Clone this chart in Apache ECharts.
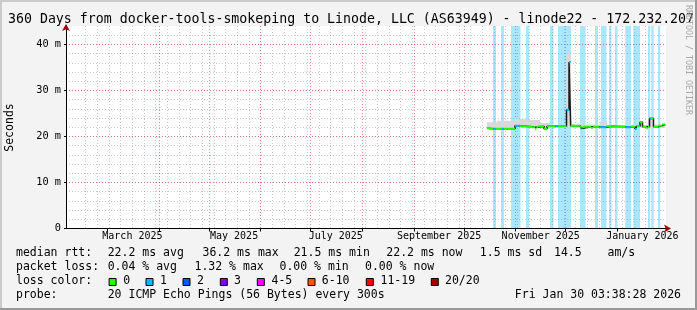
<!DOCTYPE html>
<html><head><meta charset="utf-8">
<script src="https://cdn.jsdelivr.net/npm/echarts@6/dist/echarts.min.js"></script>
<style>html,body{margin:0;padding:0;background:#f3f3f3}#c{width:697px;height:310px}</style>
</head><body><div id="c"></div>
<script>
// ---------------- data ----------------
const titleText = '360 Days from docker-tools-smokeping to Linode, LLC (AS63949) - linode22 - 172.232.207.';
const startTime = '2025-02-04 03:38:28';
const endTime = '2026-01-30 03:38:28';
const yMax = 44;
const monthLabels = ['March 2025', 'May 2025', 'July 2025', 'September 2025', 'November 2025', 'January 2026'];
const monthLabelDates = ['2025-03-16', '2025-05-16', '2025-07-16', '2025-09-16', '2025-11-16', '2026-01-16'];
const monthStarts = ['2025-03-01', '2025-04-01', '2025-05-01', '2025-06-01', '2025-07-01', '2025-08-01',
  '2025-09-01', '2025-10-01', '2025-11-01', '2025-12-01', '2026-01-01'];
const firstWeekLine = '2025-02-09';

// median rtt (ms) per change point, with loss level index (0 = no loss, 1 = 1/20)
const medianTimes = ['2025-10-14 18:03', '2025-10-15 22:51', '2025-10-18 15:39', '2025-10-20 03:39', '2025-10-23 18:03',
  '2025-10-24 22:51', '2025-10-31 13:15', '2025-11-03 13:15', '2025-11-07 03:39', '2025-11-10 18:03', '2025-11-12 13:15',
  '2025-11-13 10:51', '2025-11-14 08:27', '2025-11-17 22:51', '2025-11-19 18:03', '2025-11-24 20:27', '2025-11-26 01:15',
  '2025-12-01 10:51', '2025-12-02 22:51', '2025-12-03 23:20', '2025-12-09 13:15', '2025-12-10 10:51', '2025-12-11 01:15',
  '2025-12-16 03:39', '2025-12-17 08:27', '2025-12-20 22:51', '2025-12-25 13:44', '2025-12-28 13:44', '2026-01-05 17:34',
  '2026-01-08 23:20', '2026-01-11 13:15', '2026-01-12 13:44', '2026-01-14 13:15', '2026-01-16 01:15', '2026-01-18 10:51',
  '2026-01-19 08:27', '2026-01-20 06:03', '2026-01-21 03:39', '2026-01-22 15:39', '2026-01-25 12:46', '2026-01-27 18:03'];
const medianValues = [21.8, 21.7, 21.7, 21.7, 21.7, 21.7, 22.3, 22.2, 22.1, 22.0, 21.7,
  22.0, 22.2, 21.7, 22.2, 22.2, 22.2, 25.8, 36.2, 22.3, 22.1, 21.7, 22.1,
  21.9, 22.1, 22.0, 22.2, 22.1, 22.0, 22.1, 21.6, 22.2, 23.1, 22.1, 21.8,
  22.1, 23.9, 23.9, 22.1, 22.3, 22.6];
const medianLoss = [0, 0, 1, 0, 1, 0, 1, 0, 0, 0, 0,
  0, 0, 0, 0, 1, 0, 1, 1, 0, 0, 0, 0,
  0, 0, 1, 0, 0, 1, 0, 1, 0, 0, 0, 0,
  0, 1, 0, 0, 0, 0];
const dataEnd = '2026-01-29 17:34';

// smoke (spread of the pings), ms
const smokeTimes = ['2025-10-14 18:03', '2025-10-20 18:03', '2025-10-31 13:15', '2025-11-08 08:27', '2025-11-15 13:15',
  '2025-11-21 13:15', '2025-12-01 10:51', '2025-12-04 03:39', '2025-12-21 13:15', '2025-12-25 18:03', '2026-01-14 13:15',
  '2026-01-16 01:15', '2026-01-19 08:27', '2026-01-22 22:51'];
const smokeLow = [21.6, 21.6, 22.0, 21.9, 21.7, 21.9, 22.0, 21.9, 21.8, 21.9, 21.9, 21.9, 21.7, 21.9];
const smokeHigh = [23.1, 23.4, 23.8, 23.6, 22.9, 22.5, 38.0, 22.6, 23.3, 22.5, 23.4, 22.5, 24.3, 22.6];

// periods with packet loss (background shading)
const lossBarStart = ['2025-10-18 08:27', '2025-10-23 03:39', '2025-10-29 03:39', '2025-11-07 03:39', '2025-11-21 13:15',
  '2025-11-26 08:27', '2025-11-27 17:34', '2025-12-09 13:15', '2025-12-10 22:22', '2025-12-18 13:15', '2025-12-22 03:39',
  '2025-12-26 22:51', '2025-12-30 13:15', '2026-01-05 17:34', '2026-01-10 12:46', '2026-01-19 08:27', '2026-01-21 07:58',
  '2026-01-25 08:27'];
const lossBarEnd = ['2025-10-20 03:39', '2025-10-24 22:51', '2025-11-03 20:27', '2025-11-08 22:51', '2025-11-23 15:39',
  '2025-11-27 17:34', '2025-12-04 03:39', '2025-12-10 22:22', '2025-12-12 20:27', '2025-12-20 08:27', '2025-12-25 10:51',
  '2025-12-28 10:51', '2026-01-01 01:15', '2026-01-09 03:39', '2026-01-14 13:15', '2026-01-20 17:34', '2026-01-22 18:32',
  '2026-01-26 17:34'];

const lossLabels = ['0', '1', '2', '3', '4-5', '6-10', '11-19', '20/20'];
const lossColors = ['#26ff00', '#00b8ff', '#0059ff', '#7e00ff', '#ff00ff', '#ff5500', '#ff0000', '#a10000'];

const rttLegend = ['median rtt:', '22.2 ms avg', '36.2 ms max', '21.5 ms min', '22.2 ms now', '1.5 ms sd', '14.5', 'am/s'];
const lossLegend = ['packet loss:', '0.04 % avg', '1.32 % max', '0.00 % min', '0.00 % now'];
const probeLegend = ['probe:', '20 ICMP Echo Pings (56 Bytes) every 300s'];
const stampText = 'Fri Jan 30 03:38:28 2026';
const watermark = 'RRDTOOL / TOBI OETIKER';

// ---------------- layout / style ----------------
const MONO = '"DejaVu Sans Mono", monospace';
const rttX = [16, 107.7, 202.5, 293.7, 386.3, 479.8, 554, 607.5];
const lossX = [16, 107.7, 194.5, 279.5, 365];
const boxX = [108.6, 145.5, 182.5, 219.8, 256.8, 307.5, 365.8, 430.8];
const boxLabelX = [123.3, 160, 197, 234, 271.5, 321.8, 380.5, 445];
const lossBg = 'rgba(0,184,255,0.34)';

const T = s => new Date(s.length === 10 ? s + 'T00:00:00' : s.replace(' ', 'T')).getTime();
const tMin = T(startTime), tMax = T(endTime);
const weekLines = [];
for (let d = new Date(T(firstWeekLine)); d.getTime() < tMax; d.setDate(d.getDate() + 7)) weekLines.push(d.getTime());
const monthTs = monthStarts.map(T);
const labelTs = monthLabelDates.map(T);

const n = medianTimes.length;
const medianSeg = medianTimes.map((t, i) => [T(t), T(i + 1 < n ? medianTimes[i + 1] : dataEnd), medianValues[i], medianLoss[i]]);
const medianLine = medianTimes.map((t, i) => [T(t), medianValues[i]]).concat([[T(dataEnd), medianValues[n - 1]]]);
const sm = smokeTimes.length;
const smokeSeg = smokeTimes.map((t, i) => [T(t), T(i + 1 < sm ? smokeTimes[i + 1] : dataEnd), smokeLow[i], smokeHigh[i]]);
const lossSeg = lossBarStart.map((s, i) => [T(s), T(lossBarEnd[i]), 0, yMax]);

const grid = { left: 66, top: 26, width: 600, height: 202.5, show: true, backgroundColor: '#ffffff', borderWidth: 0 };
const minorColor = 'rgba(140,140,140,0.45)';
const majorColor = 'rgba(205,35,35,0.5)';
const dots = [1, 2];

const txt = (text, x, y, size, extra) => ({
  type: 'text', x: x, y: y, silent: true,
  style: Object.assign({ text: text, font: size + 'px ' + MONO, fill: '#000', textAlign: 'left', textVerticalAlign: 'middle' }, extra || {})
});

const graphics = [
  { type: 'rect', shape: { x: 0, y: 0, width: 697, height: 2 }, style: { fill: '#cbcbcb' }, silent: true },
  { type: 'rect', shape: { x: 0, y: 0, width: 2, height: 310 }, style: { fill: '#cbcbcb' }, silent: true },
  { type: 'rect', shape: { x: 0, y: 308, width: 697, height: 2 }, style: { fill: '#999999' }, silent: true },
  { type: 'rect', shape: { x: 695, y: 0, width: 2, height: 310 }, style: { fill: '#999999' }, silent: true },
  txt(titleText, 8, 19.5, 13.25),
  Object.assign(txt(watermark, 688, 60, 8.3, { fill: '#a8a8a8', textAlign: 'center' }), { rotation: -Math.PI / 2 }),
  Object.assign(txt('Seconds', 10.5, 127.5, 11.5, { textAlign: 'center' }), { rotation: Math.PI / 2 }),
  txt(stampText, 681, 295, 11.5, { textAlign: 'right' })
];
rttLegend.forEach((s, i) => graphics.push(txt(s, rttX[i], 253.5, 11.5)));
lossLegend.forEach((s, i) => graphics.push(txt(s, lossX[i], 267.5, 11.5)));
graphics.push(txt('loss color:', 16, 281.5, 11.5));
lossLabels.forEach((s, i) => {
  graphics.push({ type: 'rect', silent: true, shape: { x: boxX[i] + 0.5, y: 278.5, width: 7, height: 7 }, style: { fill: lossColors[i], stroke: '#000', lineWidth: 1 } });
  graphics.push(txt(s, boxLabelX[i], 281.5, 11.5));
});
probeLegend.forEach((s, i) => graphics.push(txt(s, [16, 107.7][i], 295, 11.5)));

const hiddenAxisX = { type: 'value', min: tMin, max: tMax, position: 'bottom', axisLabel: { show: false }, axisTick: { show: false } };
const hiddenAxisY = { type: 'value', min: 0, max: yMax, position: 'left', axisLabel: { show: false }, axisTick: { show: false } };

const option = {
  backgroundColor: '#f3f3f3',
  animation: false,
  grid: grid,
  graphic: graphics,
  xAxis: [
    Object.assign({}, hiddenAxisX, {
      axisLine: { show: false },
      axisTick: { show: false, customValues: weekLines },
      splitLine: { show: true, showMinLine: false, showMaxLine: false, lineStyle: { color: minorColor, width: 1, type: dots } }
    }),
    {
      type: 'value', min: tMin, max: tMax, position: 'bottom',
      axisLine: { show: true, onZero: false, lineStyle: { color: '#000', width: 1 } },
      axisTick: { show: true, customValues: monthTs, length: 3, lineStyle: { color: '#000' } },
      axisLabel: {
        show: true, customValues: labelTs, margin: 3, hideOverlap: false,
        fontFamily: MONO, fontSize: 10, color: '#000',
        formatter: v => { const k = labelTs.indexOf(v); return k >= 0 ? monthLabels[k] : ''; }
      },
      splitLine: { show: true, showMinLine: false, showMaxLine: false, lineStyle: { color: majorColor, width: 1, type: dots } }
    },
    Object.assign({}, hiddenAxisX, {
      axisLine: { show: true, onZero: false, symbol: ['none', 'arrow'], symbolSize: [6, 7], symbolOffset: [0, 5], lineStyle: { color: '#9a0000', width: 0 } },
      splitLine: { show: false }
    })
  ],
  yAxis: [
    Object.assign({}, hiddenAxisY, {
      interval: 2,
      axisLine: { show: false },
      splitLine: { show: true, showMinLine: false, showMaxLine: false, lineStyle: { color: minorColor, width: 1, type: dots } }
    }),
    {
      type: 'value', min: 0, max: yMax, interval: 10, position: 'left',
      axisLine: { show: true, lineStyle: { color: '#000', width: 1 } },
      axisTick: { show: true, length: 2, lineStyle: { color: '#000' } },
      axisLabel: {
        show: true, margin: 5, showMaxLabel: false, fontFamily: MONO, fontSize: 10.3, color: '#000',
        formatter: v => v === 0 ? '0' : v + ' m'
      },
      splitLine: { show: true, showMinLine: false, showMaxLine: false, lineStyle: { color: majorColor, width: 1, type: dots } }
    },
    Object.assign({}, hiddenAxisY, {
      axisLine: { show: true, symbol: ['none', 'arrow'], symbolSize: [6, 7], symbolOffset: [0, 2], lineStyle: { color: '#9a0000', width: 0 } },
      splitLine: { show: false }
    })
  ],
  series: [
    {
      name: 'loss', type: 'custom', xAxisIndex: 1, yAxisIndex: 1, z: 1, clip: true, silent: true,
      encode: { x: [0, 1], y: [2, 3] },
      data: lossSeg,
      renderItem: (params, api) => {
        const a = api.coord([api.value(0), api.value(3)]);
        const b = api.coord([api.value(1), api.value(2)]);
        return { type: 'rect', shape: { x: a[0], y: a[1], width: b[0] - a[0], height: b[1] - a[1] }, style: { fill: lossBg } };
      }
    },
    {
      name: 'smoke', type: 'custom', xAxisIndex: 1, yAxisIndex: 1, z: 2, clip: true, silent: true,
      encode: { x: [0, 1], y: [2, 3] },
      data: smokeSeg,
      renderItem: (params, api) => {
        const a = api.coord([api.value(0), api.value(3)]);
        const b = api.coord([api.value(1), api.value(2)]);
        return { type: 'rect', shape: { x: a[0], y: a[1], width: b[0] - a[0], height: b[1] - a[1] }, style: { fill: '#d9d9d9' } };
      }
    },
    {
      name: 'median', type: 'line', xAxisIndex: 1, yAxisIndex: 1, z: 3, step: 'end', symbol: 'none', silent: true,
      lineStyle: { color: '#1a1a1a', width: 1.5 },
      data: medianLine
    },
    {
      name: 'median loss colour', type: 'custom', xAxisIndex: 1, yAxisIndex: 1, z: 4, clip: true, silent: true,
      encode: { x: [0, 1], y: 2 },
      data: medianSeg,
      renderItem: (params, api) => {
        const a = api.coord([api.value(0), api.value(2)]);
        const b = api.coord([api.value(1), api.value(2)]);
        return { type: 'line', shape: { x1: a[0], y1: a[1], x2: b[0], y2: b[1] }, style: { stroke: lossColors[api.value(3)], lineWidth: 2 } };
      }
    }
  ]
};
const chart = echarts.init(document.getElementById('c'), null, { renderer: 'canvas' });
chart.setOption(option);
</script>
</body></html>
